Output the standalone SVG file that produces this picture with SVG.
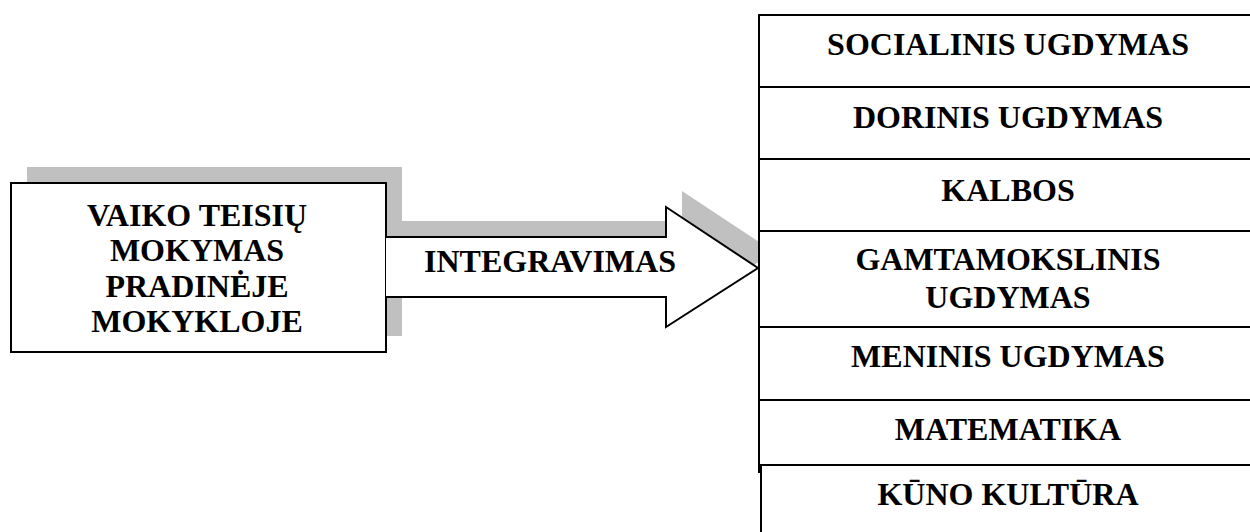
<svg xmlns="http://www.w3.org/2000/svg" width="1250" height="532" viewBox="0 0 1250 532">
  <style>
    .t { font-family: "Liberation Serif", "Times New Roman", serif; font-weight: bold; font-size: 32px; fill: #000; text-anchor: middle; }
    .box { fill: #fff; stroke: #000; stroke-width: 2; }
    .shadow { fill: #c0c0c0; stroke: none; }
  </style>
  <rect width="1250" height="532" fill="#fff"/>
  <g id="shadows">
    <rect class="shadow" x="27" y="167" width="375" height="169"/>
    <polygon class="shadow" points="402,221 682,221 682,191 774,252 682,311 682,281 402,281"/>
  </g>
  <g id="node-vaiko">
    <rect class="box" x="11" y="183" width="375" height="169"/>
    <text class="t" x="197" y="226">VAIKO TEISIŲ</text>
    <text class="t" x="197" y="261">MOKYMAS</text>
    <text class="t" x="197" y="297">PRADINĖJE</text>
    <text class="t" x="197" y="332">MOKYKLOJE</text>
  </g>
  <g id="connectors">
    <g id="arrow-integravimas">
      <polygon points="386,237 666,237 666,207 758,268 666,327 666,297 386,297" fill="#fff" stroke="none"/>
      <polyline points="386,237 666,237 666,207 758,268 666,327 666,297 386,297" fill="none" stroke="#000" stroke-width="2"/>
      <text class="t" x="550" y="272">INTEGRAVIMAS</text>
    </g>
  </g>
  <g id="node-socialinis">
    <rect class="box" x="759" y="15" width="500" height="72"/>
    <text class="t" x="1008" y="55">SOCIALINIS UGDYMAS</text>
  </g>
  <g id="node-dorinis">
    <rect class="box" x="759" y="87" width="500" height="72"/>
    <text class="t" x="1008" y="128">DORINIS UGDYMAS</text>
  </g>
  <g id="node-kalbos">
    <rect class="box" x="759" y="159" width="500" height="72"/>
    <text class="t" x="1008" y="201">KALBOS</text>
  </g>
  <g id="node-gamtamokslinis">
    <rect class="box" x="759" y="231" width="500" height="96"/>
    <text class="t" x="1008" y="270">GAMTAMOKSLINIS</text>
    <text class="t" x="1008" y="308">UGDYMAS</text>
  </g>
  <g id="node-meninis">
    <rect class="box" x="759" y="327" width="500" height="73"/>
    <text class="t" x="1008" y="367">MENINIS UGDYMAS</text>
  </g>
  <g id="node-matematika">
    <rect class="box" x="759" y="400" width="500" height="72"/>
    <text class="t" x="1008" y="440">MATEMATIKA</text>
  </g>
  <g id="node-kuno">
    <rect class="box" x="761" y="465" width="500" height="80"/>
    <text class="t" x="1008" y="505">KŪNO KULTŪRA</text>
  </g>
</svg>
